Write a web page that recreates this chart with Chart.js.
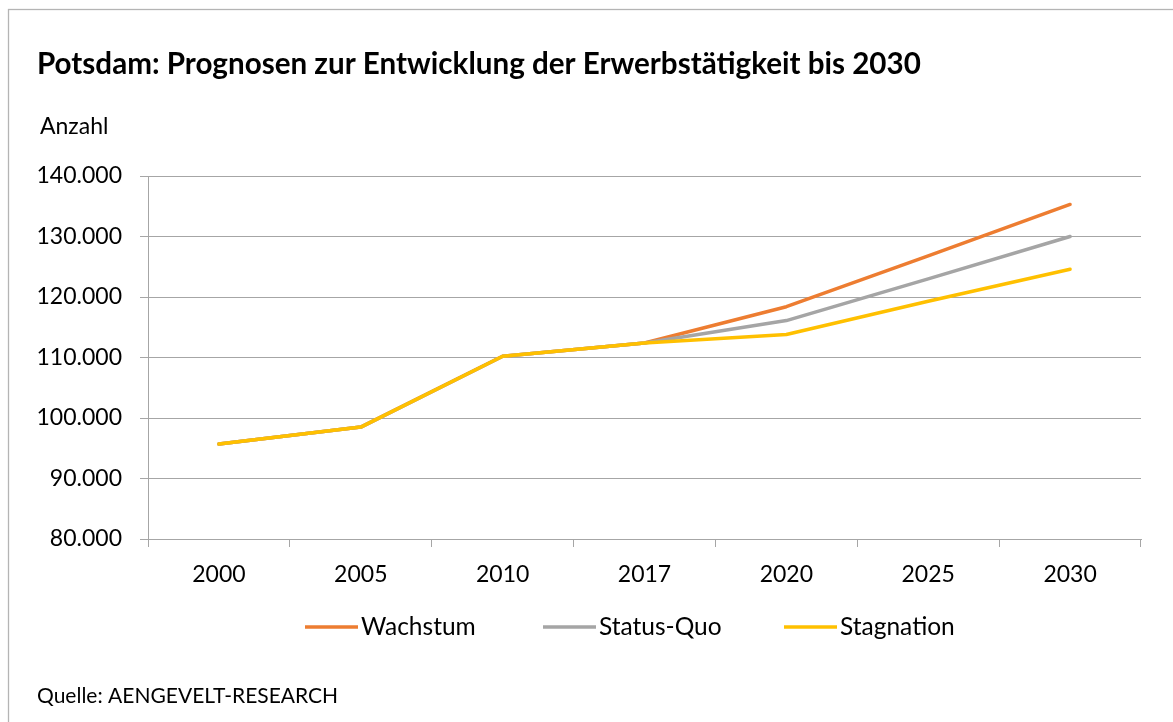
<!DOCTYPE html>
<html lang="de">
<head>
<meta charset="utf-8">
<title>Potsdam: Prognosen zur Entwicklung der Erwerbstätigkeit bis 2030</title>
<script src="https://cdn.jsdelivr.net/npm/chart.js@4/dist/chart.umd.min.js"></script>
<style>
  html, body { margin: 0; padding: 0; background: #ffffff; }
  #wrap { width: 1173px; height: 722px; }
</style>
</head>
<body>
<div id="wrap"><canvas id="chart" width="1173" height="722"></canvas></div>
<script>
// Jahre (Kategorien) und Prognosewerte der Erwerbstätigen
const years = ['2000', '2005', '2010', '2017', '2020', '2025', '2030'];
const wachstum   = [95700, 98500, 110200, 112400, 118400, 126800, 135300];
const statusQuo  = [95700, 98500, 110200, 112400, 116100, 123000, 130000];
const stagnation = [95700, 98500, 110200, 112400, 113800, 119300, 124600];
const seriesNames = ['Wachstum', 'Status-Quo', 'Stagnation'];
const yTicks = [80000, 90000, 100000, 110000, 120000, 130000, 140000];

const titleText = 'Potsdam: Prognosen zur Entwicklung der Erwerbstätigkeit bis 2030';
const unitText = 'Anzahl';
const sourceText = 'Quelle: AENGEVELT-RESEARCH';

const FONT = 'Lato, Carlito, "Open Sans", sans-serif';
const GRID = '#a6a6a6';

function formatDE(v) {
  return Math.round(v).toString().replace(/\B(?=(\d{3})+(?!\d))/g, '.');
}

// Rahmen, Überschrift, Einheit, Quelle und Legende
const decorations = {
  id: 'decorations',
  beforeDraw(chart) {
    const ctx = chart.ctx;
    ctx.save();
    ctx.fillStyle = '#ffffff';
    ctx.fillRect(0, 0, chart.width, chart.height);
    ctx.strokeStyle = '#b4b4b4';
    ctx.lineWidth = 1.3;
    ctx.strokeRect(8.5, 9.5, chart.width + 40, chart.height + 40);
    ctx.restore();
  },
  afterDraw(chart) {
    const ctx = chart.ctx;
    ctx.save();
    ctx.fillStyle = '#000000';
    ctx.textBaseline = 'alphabetic';
    ctx.textAlign = 'left';
    ctx.font = 'bold 29.6px ' + FONT;
    ctx.fillText(titleText, 37, 74);
    ctx.font = '23px ' + FONT;
    ctx.fillText(unitText, 40, 134);
    ctx.font = '21px ' + FONT;
    ctx.fillText(sourceText, 37, 703);

    // Legende
    const items = [
      { x: 305 }, { x: 543 }, { x: 784 }
    ];
    const ly = 627;
    ctx.font = '24.5px ' + FONT;
    ctx.textBaseline = 'middle';
    chart.data.datasets.forEach((ds, i) => {
      const x = items[i].x;
      ctx.strokeStyle = ds.borderColor;
      ctx.lineWidth = 3.5;
      ctx.lineCap = 'butt';
      ctx.beginPath();
      ctx.moveTo(x, ly);
      ctx.lineTo(x + 53, ly);
      ctx.stroke();
      ctx.fillStyle = '#000000';
      ctx.fillText(ds.label, x + 56, ly);
    });
    ctx.restore();
  }
};

const lineStyle = (color, order) => ({
  borderColor: color,
  backgroundColor: color,
  borderWidth: 3.5,
  borderCapStyle: 'round',
  borderJoinStyle: 'round',
  pointRadius: 0,
  pointHoverRadius: 0,
  tension: 0,
  fill: false,
  order: order
});

new Chart(document.getElementById('chart'), {
  type: 'line',
  data: {
    labels: years,
    datasets: [
      { label: seriesNames[0], data: wachstum,   ...lineStyle('#ED7D31', 3) },
      { label: seriesNames[1], data: statusQuo,  ...lineStyle('#A5A5A5', 2) },
      { label: seriesNames[2], data: stagnation, ...lineStyle('#FFC000', 1) }
    ]
  },
  options: {
    responsive: false,
    animation: false,
    events: [],
    layout: { padding: { left: 0, right: 32, top: 176, bottom: 133 } },
    plugins: {
      legend: { display: false },
      title: { display: false },
      tooltip: { enabled: false }
    },
    scales: {
      x: {
        type: 'category',
        offset: true,
        grid: {
          offset: true,
          drawOnChartArea: false,
          drawTicks: true,
          tickLength: 8,
          color: GRID,
          lineWidth: 1
        },
        border: { display: true, color: GRID, width: 1 },
        ticks: {
          color: '#000000',
          padding: 14,
          maxRotation: 0,
          font: { family: FONT, size: 23 }
        },
        afterFit(scale) { scale.height = 50; }
      },
      y: {
        min: yTicks[0],
        max: yTicks[yTicks.length - 1],
        afterBuildTicks(scale) {
          scale.ticks = yTicks.map(v => ({ value: v }));
        },
        grid: {
          drawTicks: true,
          tickLength: 8,
          color: GRID,
          lineWidth: 1
        },
        border: { display: true, color: GRID, width: 1 },
        ticks: {
          color: '#000000',
          padding: 18,
          font: { family: FONT, size: 23 },
          callback: (v) => formatDE(v)
        },
        afterFit(scale) { scale.width = 148; }
      }
    }
  },
  plugins: [decorations]
});
</script>
</body>
</html>
